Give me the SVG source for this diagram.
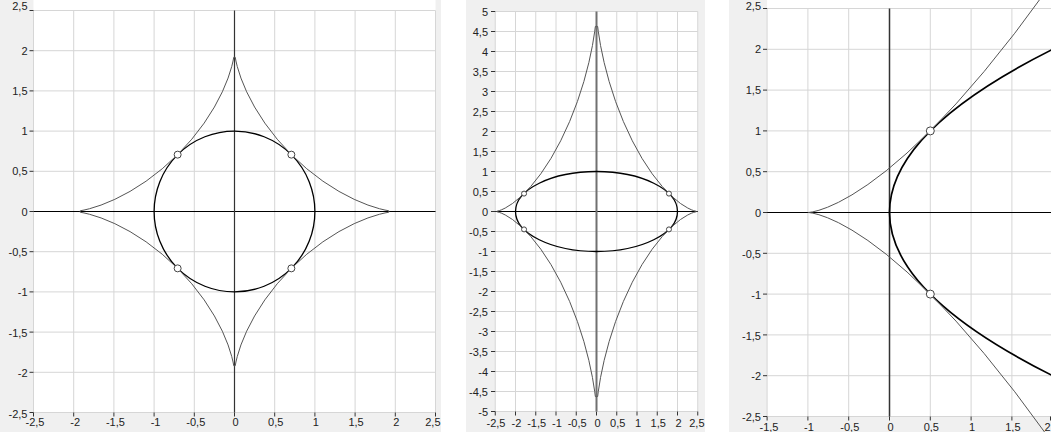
<svg xmlns="http://www.w3.org/2000/svg" width="1051" height="432" viewBox="0 0 1051 432">
<style>
.frame{fill:#f0f0f0}
.plot{fill:#ffffff}
.grid{fill:none;stroke:#d6d6d6;stroke-width:1}
.tick{fill:none;stroke:#333;stroke-width:1}
.ax{fill:none;stroke:#000;stroke-width:1.2}
.yax{fill:none;stroke:#333;stroke-width:1.2}
.main{fill:none;stroke:#000;stroke-width:1.3;vector-effect:non-scaling-stroke}
.thin{fill:none;stroke:#555;stroke-width:1;stroke-linejoin:round;vector-effect:non-scaling-stroke}
.pt{fill:#fff;stroke:#444;stroke-width:1}
text{font-family:"Liberation Sans",Arial,sans-serif;font-size:11px;fill:#222}
.yl{text-anchor:end}
.xl{text-anchor:middle}
.xe{text-anchor:end}
</style>
<defs>
<clipPath id="c1"><rect x="0" y="0" width="441" height="432"/></clipPath>
<clipPath id="c2"><rect x="466" y="0" width="239" height="432"/></clipPath>
<clipPath id="c3"><rect x="729" y="0" width="322" height="432"/></clipPath>
</defs>
<rect width="1051" height="432" fill="#fff"/>

<g id="panel1" clip-path="url(#c1)">
<rect class="frame" x="0" y="0" width="441" height="432"/>
<rect class="plot" x="33.5" y="0" width="402" height="412.5"/>
<path class="grid" d="M33.5,10.5V412.5M73.7,10.5V412.5M113.9,10.5V412.5M154.1,10.5V412.5M194.3,10.5V412.5M274.7,10.5V412.5M314.9,10.5V412.5M355.1,10.5V412.5M395.3,10.5V412.5M435.5,10.5V412.5M33.5,10.5H435.5M33.5,50.7H435.5M33.5,90.9H435.5M33.5,131.1H435.5M33.5,171.3H435.5M33.5,251.7H435.5M33.5,291.9H435.5M33.5,332.1H435.5M33.5,372.3H435.5M33.5,412.5H435.5"/>
<path class="tick" d="M29.5,10.5H33.5M29.5,50.7H33.5M29.5,90.9H33.5M29.5,131.1H33.5M29.5,171.3H33.5M29.5,211.5H33.5M29.5,251.7H33.5M29.5,291.9H33.5M29.5,332.1H33.5M29.5,372.3H33.5M29.5,412.5H33.5M33.5,412.5V416.5M73.7,412.5V416.5M113.9,412.5V416.5M154.1,412.5V416.5M194.3,412.5V416.5M234.5,412.5V416.5M274.7,412.5V416.5M314.9,412.5V416.5M355.1,412.5V416.5M395.3,412.5V416.5M435.5,412.5V416.5"/>
<path class="ax" d="M33.5,211.5H435.5"/>
<path class="yax" d="M234.5,10.5V412.5"/>
<g transform="translate(234.5 211.5) scale(80.4 -80.4)">
<circle class="main" cx="0" cy="0" r="1"/>
<path class="thin" d="M1.92,0L1.9188,0.009 1.8718,0.018 1.8024,0.0347 1.6595,0.08 1.4889,0.151 1.299,0.25 1.0993,0.3774 0.8991,0.5312 0.7071,0.7071 0.5312,0.8991 0.3774,1.0993 0.25,1.299 0.151,1.4889 0.08,1.6595 0.0347,1.8024 0.018,1.8718 0.009,1.9188 0,1.92 -0.009,1.9188 -0.018,1.8718 -0.0347,1.8024 -0.08,1.6595 -0.151,1.4889 -0.25,1.299 -0.3774,1.0993 -0.5312,0.8991 -0.7071,0.7071 -0.8991,0.5312 -1.0993,0.3774 -1.299,0.25 -1.4889,0.151 -1.6595,0.08 -1.8024,0.0347 -1.8718,0.018 -1.9188,0.009 -1.92,0 -1.9188,-0.009 -1.8718,-0.018 -1.8024,-0.0347 -1.6595,-0.08 -1.4889,-0.151 -1.299,-0.25 -1.0993,-0.3774 -0.8991,-0.5312 -0.7071,-0.7071 -0.5312,-0.8991 -0.3774,-1.0993 -0.25,-1.299 -0.151,-1.4889 -0.08,-1.6595 -0.0347,-1.8024 -0.018,-1.8718 -0.009,-1.9188 0,-1.92 0.009,-1.9188 0.018,-1.8718 0.0347,-1.8024 0.08,-1.6595 0.151,-1.4889 0.25,-1.299 0.3774,-1.0993 0.5312,-0.8991 0.7071,-0.7071 0.8991,-0.5312 1.0993,-0.3774 1.299,-0.25 1.4889,-0.151 1.6595,-0.08 1.8024,-0.0347 1.8718,-0.018 1.9188,-0.009Z"/>
</g>
<circle class="pt" cx="177.65" cy="154.65" r="3.5"/>
<circle class="pt" cx="291.35" cy="154.65" r="3.5"/>
<circle class="pt" cx="177.65" cy="268.35" r="3.5"/>
<circle class="pt" cx="291.35" cy="268.35" r="3.5"/>
<text class="yl" x="27.5" y="9.5">2,5</text>
<text class="yl" x="27.5" y="54.7">2</text>
<text class="yl" x="27.5" y="94.9">1,5</text>
<text class="yl" x="27.5" y="135.1">1</text>
<text class="yl" x="27.5" y="175.3">0,5</text>
<text class="yl" x="27.5" y="215.5">0</text>
<text class="yl" x="27.5" y="256.2">-0,5</text>
<text class="yl" x="27.5" y="296.4">-1</text>
<text class="yl" x="27.5" y="336.6">-1,5</text>
<text class="yl" x="27.5" y="376.8">-2</text>
<text class="yl" x="27.5" y="417.5">-2,5</text>
<text class="xl" x="35" y="426">-2,5</text>
<text class="xl" x="75.2" y="426">-2</text>
<text class="xl" x="115.4" y="426">-1,5</text>
<text class="xl" x="155.6" y="426">-1</text>
<text class="xl" x="195.8" y="426">-0,5</text>
<text class="xl" x="235.5" y="426">0</text>
<text class="xl" x="275.7" y="426">0,5</text>
<text class="xl" x="315.9" y="426">1</text>
<text class="xl" x="356.1" y="426">1,5</text>
<text class="xl" x="396.3" y="426">2</text>
<text class="xe" x="440.5" y="426">2,5</text>
</g>

<g id="panel2" clip-path="url(#c2)">
<rect class="frame" x="466" y="0" width="239" height="432"/>
<rect class="plot" x="495.25" y="11.5" width="202.5" height="400"/>
<path class="grid" d="M495.25,11.5V411.5M515.5,11.5V411.5M535.75,11.5V411.5M556,11.5V411.5M576.25,11.5V411.5M616.75,11.5V411.5M637,11.5V411.5M657.25,11.5V411.5M677.5,11.5V411.5M697.75,11.5V411.5M495.25,11.5H697.75M495.25,31.5H697.75M495.25,51.5H697.75M495.25,71.5H697.75M495.25,91.5H697.75M495.25,111.5H697.75M495.25,131.5H697.75M495.25,151.5H697.75M495.25,171.5H697.75M495.25,191.5H697.75M495.25,231.5H697.75M495.25,251.5H697.75M495.25,271.5H697.75M495.25,291.5H697.75M495.25,311.5H697.75M495.25,331.5H697.75M495.25,351.5H697.75M495.25,371.5H697.75M495.25,391.5H697.75M495.25,411.5H697.75"/>
<path class="tick" d="M491,11.5H495.25M491,31.5H495.25M491,51.5H495.25M491,71.5H495.25M491,91.5H495.25M491,111.5H495.25M491,131.5H495.25M491,151.5H495.25M491,171.5H495.25M491,191.5H495.25M491,211.5H495.25M491,231.5H495.25M491,251.5H495.25M491,271.5H495.25M491,291.5H495.25M491,311.5H495.25M491,331.5H495.25M491,351.5H495.25M491,371.5H495.25M491,391.5H495.25M491,411.5H495.25M495.25,411.5V415.5M515.5,411.5V415.5M535.75,411.5V415.5M556,411.5V415.5M576.25,411.5V415.5M596.5,411.5V415.5M616.75,411.5V415.5M637,411.5V415.5M657.25,411.5V415.5M677.5,411.5V415.5M697.75,411.5V415.5"/>
<path class="ax" d="M495.25,211.5H697.75"/>
<path fill="none" stroke="#707070" stroke-width="2" d="M596.5,11.5V411.5"/>
<g transform="translate(596.5 211.5) scale(40.5 -40)">
<ellipse class="main" cx="0" cy="0" rx="2" ry="1"/>
<path class="thin" d="M2.47,0L2.4644,0.0046 2.3986,0.0225 2.3398,0.0449 2.2531,0.0867 2.0744,0.2 1.8611,0.3774 1.6238,0.625 1.3741,0.9435 1.1238,1.3279 0.8839,1.7678 0.664,2.2477 0.4718,2.7483 0.3125,3.2476 0.1887,3.7222 0.1,4.1488 0.0433,4.5061 0.0285,4.6254 0,4.63 -0.0285,4.6254 -0.0433,4.5061 -0.1,4.1488 -0.1887,3.7222 -0.3125,3.2476 -0.4718,2.7483 -0.664,2.2477 -0.8839,1.7678 -1.1238,1.3279 -1.3741,0.9435 -1.6238,0.625 -1.8611,0.3774 -2.0744,0.2 -2.2531,0.0867 -2.3398,0.0449 -2.3986,0.0225 -2.4644,0.0046 -2.47,0 -2.4644,-0.0046 -2.3986,-0.0225 -2.3398,-0.0449 -2.2531,-0.0867 -2.0744,-0.2 -1.8611,-0.3774 -1.6238,-0.625 -1.3741,-0.9435 -1.1238,-1.3279 -0.8839,-1.7678 -0.664,-2.2477 -0.4718,-2.7483 -0.3125,-3.2476 -0.1887,-3.7222 -0.1,-4.1488 -0.0433,-4.5061 -0.0285,-4.6254 0,-4.63 0.0285,-4.6254 0.0433,-4.5061 0.1,-4.1488 0.1887,-3.7222 0.3125,-3.2476 0.4718,-2.7483 0.664,-2.2477 0.8839,-1.7678 1.1238,-1.3279 1.3741,-0.9435 1.6238,-0.625 1.8611,-0.3774 2.0744,-0.2 2.2531,-0.0867 2.3398,-0.0449 2.3986,-0.0225 2.4644,-0.0046Z"/>
</g>
<circle class="pt" cx="524.05" cy="193.6" r="2.5"/>
<circle class="pt" cx="668.95" cy="193.6" r="2.5"/>
<circle class="pt" cx="524.05" cy="229.4" r="2.5"/>
<circle class="pt" cx="668.95" cy="229.4" r="2.5"/>
<text class="yl" x="488" y="15.5">5</text>
<text class="yl" x="488" y="35.5">4,5</text>
<text class="yl" x="488" y="55.5">4</text>
<text class="yl" x="488" y="75.5">3,5</text>
<text class="yl" x="488" y="95.5">3</text>
<text class="yl" x="488" y="115.5">2,5</text>
<text class="yl" x="488" y="135.5">2</text>
<text class="yl" x="488" y="155.5">1,5</text>
<text class="yl" x="488" y="175.5">1</text>
<text class="yl" x="488" y="195.5">0,5</text>
<text class="yl" x="488" y="215.5">0</text>
<text class="yl" x="488" y="236">-0,5</text>
<text class="yl" x="488" y="256">-1</text>
<text class="yl" x="488" y="276">-1,5</text>
<text class="yl" x="488" y="296">-2</text>
<text class="yl" x="488" y="316">-2,5</text>
<text class="yl" x="488" y="336">-3</text>
<text class="yl" x="488" y="356">-3,5</text>
<text class="yl" x="488" y="376">-4</text>
<text class="yl" x="488" y="396">-4,5</text>
<text class="yl" x="488" y="416">-5</text>
<text class="xl" x="496" y="427">-2,5</text>
<text class="xl" x="516.5" y="427">-2</text>
<text class="xl" x="536.7" y="427">-1,5</text>
<text class="xl" x="557" y="427">-1</text>
<text class="xl" x="577.2" y="427">-0,5</text>
<text class="xl" x="597.5" y="427">0</text>
<text class="xl" x="617.7" y="427">0,5</text>
<text class="xl" x="638" y="427">1</text>
<text class="xl" x="658.2" y="427">1,5</text>
<text class="xl" x="678.5" y="427">2</text>
<text class="xe" x="704.5" y="427">2,5</text>
</g>

<g id="panel3" clip-path="url(#c3)">
<rect class="frame" x="729" y="0" width="322" height="432"/>
<rect class="plot" x="767.1" y="0" width="284" height="416.5"/>
<path class="grid" d="M767.1,8.5V416.5M807.9,8.5V416.5M848.7,8.5V416.5M930.3,8.5V416.5M971.1,8.5V416.5M1011.9,8.5V416.5M767.1,8.5H1051M767.1,49.3H1051M767.1,90.1H1051M767.1,130.9H1051M767.1,171.7H1051M767.1,253.3H1051M767.1,294.1H1051M767.1,334.9H1051M767.1,375.7H1051M767.1,416.5H1051"/>
<path class="tick" d="M763,8.5H767.1M763,49.3H767.1M763,90.1H767.1M763,130.9H767.1M763,171.7H767.1M763,212.5H767.1M763,253.3H767.1M763,294.1H767.1M763,334.9H767.1M763,375.7H767.1M763,416.5H767.1M767.1,416.5V420.5M807.9,416.5V420.5M848.7,416.5V420.5M889.5,416.5V420.5M930.3,416.5V420.5M971.1,416.5V420.5M1011.9,416.5V420.5M1050.5,416.5V420.5"/>
<path class="ax" d="M767.1,212.5H1051"/>
<path fill="none" stroke="#333" stroke-width="1.5" d="M889.5,8.5V416.5"/>
<g transform="translate(889.5 212.5) scale(81.6 -81.6)">
<path class="main" style="stroke-width:1.7" d="M2,-2Q-2,0 2,2"/>
<path class="thin" d="M1.94,2.744L1.535,2.197 1.16,1.728 0.815,1.331 0.5,1 0.215,0.729 -0.04,0.512 -0.265,0.343 -0.46,0.216 -0.625,0.125 -0.76,0.064 -0.865,0.027 -0.94,0.008 -0.985,0.001 -1,0 -0.985,-0.001 -0.94,-0.008 -0.865,-0.027 -0.76,-0.064 -0.625,-0.125 -0.46,-0.216 -0.265,-0.343 -0.04,-0.512 0.215,-0.729 0.5,-1 0.815,-1.331 1.16,-1.728 1.535,-2.197 1.94,-2.744"/>
</g>
<circle class="pt" cx="930.3" cy="130.9" r="4"/>
<circle class="pt" cx="930.3" cy="294.1" r="4"/>
<text class="yl" x="761" y="9.5">2,5</text>
<text class="yl" x="761" y="53.3">2</text>
<text class="yl" x="761" y="94.1">1,5</text>
<text class="yl" x="761" y="134.9">1</text>
<text class="yl" x="761" y="175.7">0,5</text>
<text class="yl" x="761" y="216.5">0</text>
<text class="yl" x="761" y="258">-0,5</text>
<text class="yl" x="761" y="298.8">-1</text>
<text class="yl" x="761" y="339.6">-1,5</text>
<text class="yl" x="761" y="380.4">-2</text>
<text class="yl" x="761" y="421">-2,5</text>
<text class="xl" x="769" y="430.5">-1,5</text>
<text class="xl" x="809" y="430.5">-1</text>
<text class="xl" x="849.8" y="430.5">-0,5</text>
<text class="xl" x="890.5" y="430.5">0</text>
<text class="xl" x="931.3" y="430.5">0,5</text>
<text class="xl" x="972.1" y="430.5">1</text>
<text class="xl" x="1012.9" y="430.5">1,5</text>
<text class="xe" x="1050.5" y="430.5">2</text>
</g>
</svg>
